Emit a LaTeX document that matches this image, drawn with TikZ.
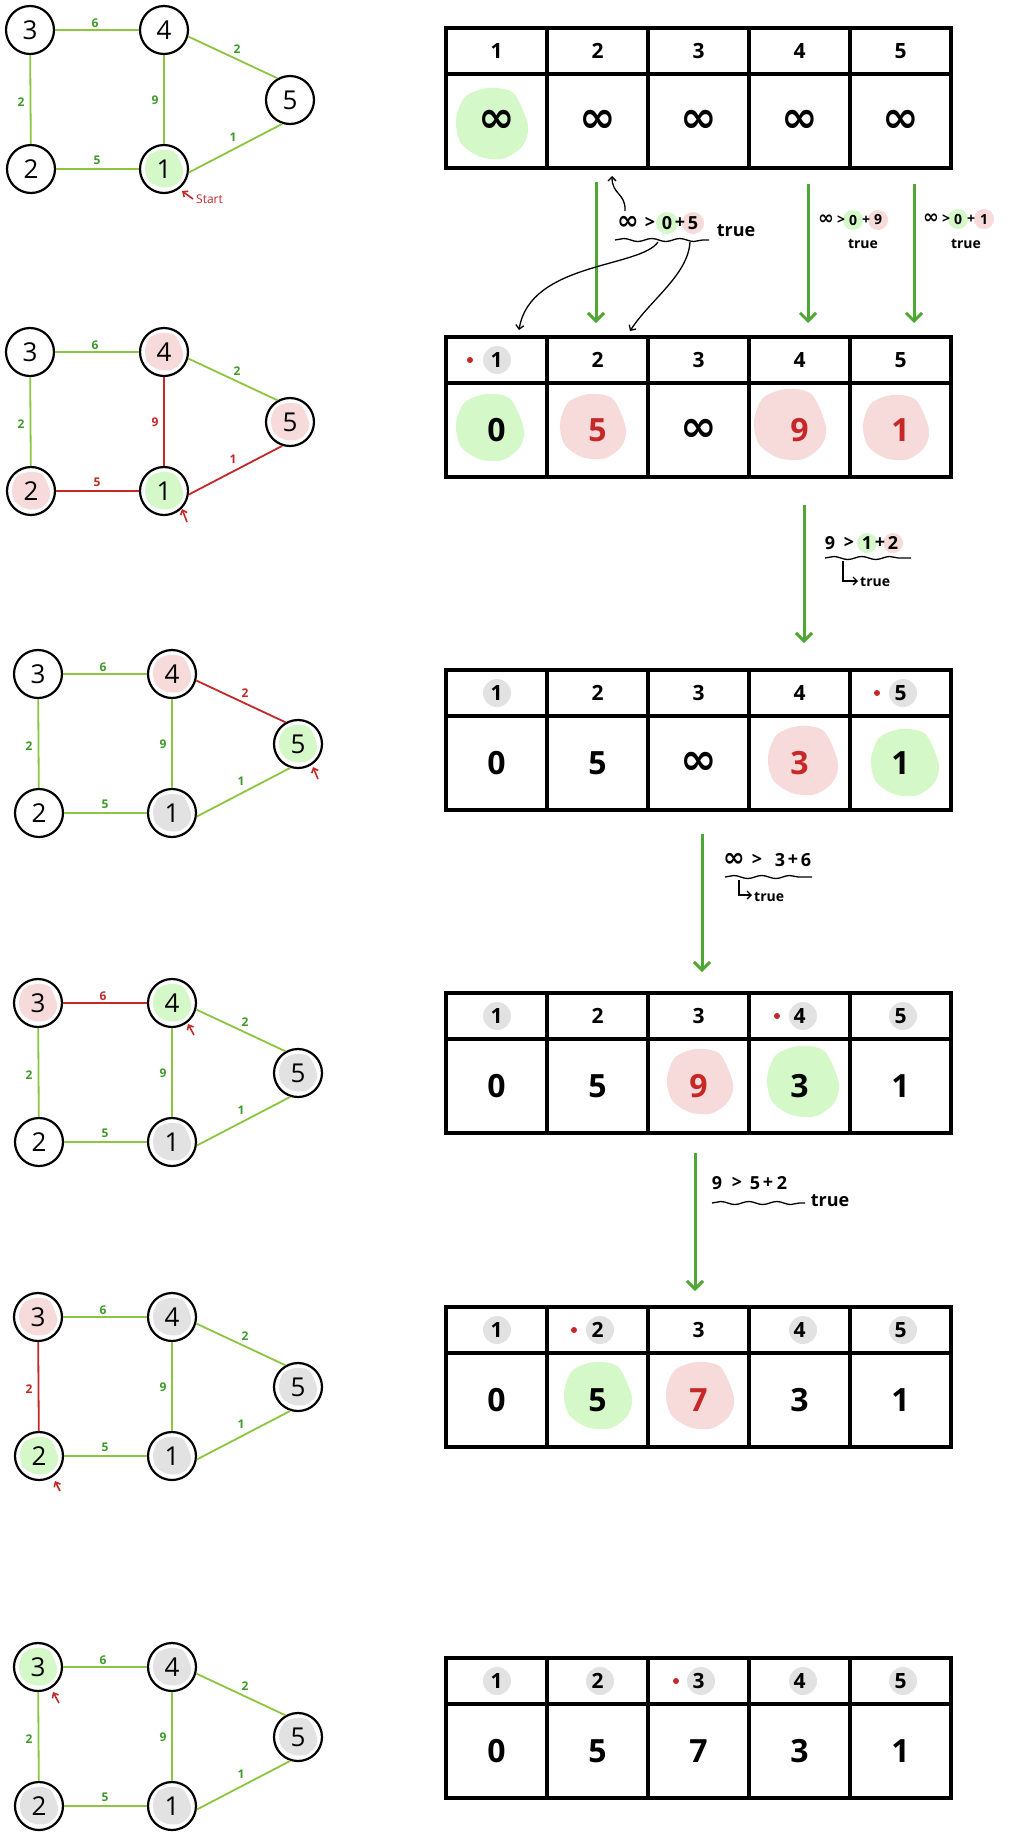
\documentclass[tikz,border=0pt]{standalone}
\usepackage{fontspec}
\setmainfont{Open Sans}
\newfontfamily\symf{DejaVu Sans}
\usetikzlibrary{arrows.meta,decorations.pathmorphing}
\definecolor{gedge}{HTML}{8CC63F}
\definecolor{glab}{HTML}{3F9A2A}
\definecolor{rline}{HTML}{C62828}
\definecolor{gfill}{HTML}{D4F8C8}
\definecolor{pfill}{HTML}{F7DADA}
\definecolor{grfill}{HTML}{E2E2E2}
\definecolor{garrow}{HTML}{4FA834}
\newcommand\infsym{{\symf ∞}}
\newcommand\infbig{{\symf\fontsize{44}{44}\selectfont ∞}}
\newcommand\infmid{{\symf\fontsize{26}{26}\selectfont ∞}}
\newcommand\infsm{{\symf\fontsize{19}{19}\selectfont ∞}}
\newcommand\myblob[4]{\fill[fill=#4,shift={(#1,#2)},scale=#3] plot[smooth cycle] coordinates {(1,0.05) (0.85,0.6) (0.35,0.95) (-0.3,0.92) (-0.85,0.55) (-1,-0.1) (-0.75,-0.75) (-0.1,-1) (0.6,-0.85)};}
\tikzset{
 gnode/.style={circle, draw, line width=2.2pt, minimum size=48pt, inner sep=0pt, font=\fontsize{26}{26}\selectfont},
 ge/.style={draw=gedge, line width=1.8pt},
 re/.style={draw=rline, line width=1.8pt},
 gl/.style={text=glab, font=\fontsize{12}{12}\selectfont\bfseries, inner sep=1pt},
 rl/.style={text=rline, font=\fontsize{12}{12}\selectfont\bfseries, inner sep=1pt},
 hcell/.style={draw, line width=3.5pt, minimum width=101pt, minimum height=46pt, inner sep=0pt, font=\fontsize{21}{21}\selectfont\bfseries},
 bcell/.style={draw, line width=3.5pt, minimum width=101pt, minimum height=94pt, inner sep=0pt, font=\fontsize{32}{32}\selectfont\bfseries},
 garr/.style={draw=garrow, line width=3pt, -{Straight Barb[length=8pt,width=16pt]}},
 karr/.style={draw=black, line width=1.3pt, -{Straight Barb[length=4pt,width=8pt]}},
 rarr/.style={draw=rline, line width=1.6pt, -{Straight Barb[length=4pt,width=7pt]}},
 ann/.style={font=\fontsize{18}{18}\selectfont\bfseries, inner sep=0pt},
 anns/.style={font=\fontsize{14}{14}\selectfont\bfseries, inner sep=0pt},
 wave/.style={draw, line width=1.3pt, decorate, decoration={snake, amplitude=1.5pt, segment length=28pt}},
}
\newcommand\setg[6]{\tikzset{eA/.style={#1e},lA/.style={#1l},eB/.style={#2e},lB/.style={#2l},eC/.style={#3e},lC/.style={#3l},eD/.style={#4e},lD/.style={#4l},eE/.style={#5e},lE/.style={#5l},eF/.style={#6e},lF/.style={#6l}}}
\newcommand\setf[5]{\def\fA{#1}\def\fB{#2}\def\fC{#3}\def\fD{#4}\def\fE{#5}}
\newcommand\mygraph[3]{%
\begin{scope}[shift={(#2,#3)}]
 \myblob{0}{0}{19}{\fC}
 \myblob{134}{0}{19}{\fD}
 \myblob{260}{70}{19}{\fE}
 \myblob{1}{139}{19}{\fB}
 \myblob{134}{139}{19}{\fA}
 \node[gnode] (#1n3) at (0,0) {3};
 \node[gnode] (#1n4) at (134,0) {4};
 \node[gnode] (#1n5) at (260,70) {5};
 \node[gnode] (#1n2) at (1,139) {2};
 \node[gnode] (#1n1) at (134,139) {1};
 \draw[eA] (#1n3) -- (#1n4);
 \draw[eB] (#1n4.-15) -- (#1n5.120);
 \draw[eC] (#1n3) -- (#1n2);
 \draw[eD] (#1n4) -- (#1n1);
 \draw[eE] (#1n2) -- (#1n1);
 \draw[eF] (#1n1.-8) -- (#1n5.-108);
 \node[lA] (#1l6) at (65,-7) {6};
 \node[lB] (#1l2a) at (207,19) {2};
 \node[lD] (#1l9) at (125,70) {9};
 \node[lC] (#1l2b) at (-9,72) {2};
 \node[lE] (#1l5) at (67,130) {5};
 \node[lF] (#1l1) at (203,107) {1};
\end{scope}}
\newcommand\tabhead[7]{%
 \node[hcell] (#1h1) at (496.5,#2+23) {#3};
 \node[hcell] (#1h2) at (597.5,#2+23) {#4};
 \node[hcell] (#1h3) at (698.5,#2+23) {#5};
 \node[hcell] (#1h4) at (799.5,#2+23) {#6};
 \node[hcell] (#1h5) at (900.5,#2+23) {#7};}
\newcommand\tabbody[7]{%
 \node[bcell] (#1b1) at (496.5,#2+93) {#3};
 \node[bcell] (#1b2) at (597.5,#2+93) {#4};
 \node[bcell] (#1b3) at (698.5,#2+93) {#5};
 \node[bcell] (#1b4) at (799.5,#2+93) {#6};
 \node[bcell] (#1b5) at (900.5,#2+93) {#7};}
\newcommand\red[1]{{\color{rline}#1}}
\begin{document}
\begin{tikzpicture}[x=1pt,y=-1pt]
\fill[white] (0,0) rectangle (1032,1840);
\useasboundingbox (0,0) rectangle (1032,1840);
% ---------------- graphs
\setg{g}{g}{g}{g}{g}{g}\setf{gfill}{white}{white}{white}{white}
\mygraph{ga}{30}{30}
\setg{g}{g}{g}{r}{r}{r}\setf{gfill}{pfill}{white}{pfill}{pfill}
\mygraph{gb}{30}{352}
\setg{g}{r}{g}{g}{g}{g}\setf{grfill}{white}{white}{pfill}{gfill}
\mygraph{gc}{38}{674}
\setg{r}{g}{g}{g}{g}{g}\setf{grfill}{white}{pfill}{gfill}{grfill}
\mygraph{gd}{38}{1003}
\setg{g}{g}{r}{g}{g}{g}\setf{grfill}{gfill}{pfill}{grfill}{grfill}
\mygraph{ge}{38}{1317}
\setg{g}{g}{g}{g}{g}{g}\setf{grfill}{grfill}{gfill}{grfill}{grfill}
\mygraph{gf}{38}{1667}
% red pointer arrows
\coordinate (ra1s) at (193,199); \coordinate (ra1e) at (182,191);
\draw[rarr] (ra1s) -- (ra1e);
\node[text=rline, font=\fontsize{12}{12}\selectfont, anchor=west, inner sep=0pt] (start) at (196,199) {Start};
\coordinate (ra2s) at (187,522); \coordinate (ra2e) at (182,509);
\draw[rarr] (ra2s) -- (ra2e);
\coordinate (ra3s) at (318,779); \coordinate (ra3e) at (313,767);
\draw[rarr] (ra3s) -- (ra3e);
\coordinate (ra4s) at (194,1035); \coordinate (ra4e) at (188,1024);
\draw[rarr] (ra4s) -- (ra4e);
\coordinate (ra5s) at (60,1491); \coordinate (ra5e) at (55,1481);
\draw[rarr] (ra5s) -- (ra5e);
\coordinate (ra6s) at (59,1703); \coordinate (ra6e) at (53,1692);
\draw[rarr] (ra6s) -- (ra6e);
% ---------------- table blobs and marks
\myblob{492}{124}{36}{gfill}
% table 2
\myblob{490}{428}{34}{gfill}
\myblob{593}{427}{33}{pfill}
\myblob{790}{425}{36}{pfill}
\myblob{896}{428}{33}{pfill}
\fill[grfill] (497,360) circle (14);
\fill[rline] (470,360) circle (3);
% table 3
\fill[grfill] (497,693) circle (14);
\fill[grfill] (903,693) circle (14);
\fill[rline] (877,693) circle (3);
\myblob{803}{761}{35}{pfill}
\myblob{905}{763}{34}{gfill}
% table 4
\fill[grfill] (497,1016) circle (14);
\fill[grfill] (803,1016) circle (14);
\fill[grfill] (903,1016) circle (14);
\fill[rline] (777,1016) circle (3);
\myblob{700}{1082}{33}{pfill}
\myblob{803}{1082}{36}{gfill}
% table 5
\fill[grfill] (497,1330) circle (14);
\fill[grfill] (600,1330) circle (14);
\fill[grfill] (803,1330) circle (14);
\fill[grfill] (903,1330) circle (14);
\fill[rline] (574,1330) circle (3);
\myblob{598}{1396}{34}{gfill}
\myblob{700}{1396}{34}{pfill}
% table 6
\fill[grfill] (497,1681) circle (14);
\fill[grfill] (600,1681) circle (14);
\fill[grfill] (701,1681) circle (14);
\fill[grfill] (803,1681) circle (14);
\fill[grfill] (903,1681) circle (14);
\fill[rline] (676,1681) circle (3);
% ---------------- tables
\tabhead{ta}{28}{1}{2}{3}{4}{5}
\tabbody{ta}{28}{\infbig}{\infbig}{\infbig}{\infbig}{\infbig}
\tabhead{tb}{337}{1}{2}{3}{4}{5}
\tabbody{tb}{337}{0}{\red{5}}{\infbig}{\red{9}}{\red{1}}
\tabhead{tc}{670}{1}{2}{3}{4}{5}
\tabbody{tc}{670}{0}{5}{\infbig}{\red{3}}{1}
\tabhead{td}{993}{1}{2}{3}{4}{5}
\tabbody{td}{993}{0}{5}{\red{9}}{3}{1}
\tabhead{te}{1307}{1}{2}{3}{4}{5}
\tabbody{te}{1307}{0}{5}{\red{7}}{3}{1}
\tabhead{tf}{1658}{1}{2}{3}{4}{5}
\tabbody{tf}{1658}{0}{5}{7}{3}{1}
% ---------------- green arrows
\coordinate (a1s) at (596,182); \coordinate (a1e) at (596,323);
\coordinate (a2s) at (808,184); \coordinate (a2e) at (808,323);
\coordinate (a3s) at (914,184); \coordinate (a3e) at (914,323);
\coordinate (a4s) at (804,505); \coordinate (a4e) at (804,643);
\coordinate (a5s) at (702,834); \coordinate (a5e) at (702,972);
\coordinate (a6s) at (695,1153); \coordinate (a6e) at (695,1291);
\foreach \i in {1,...,6}{\draw[garr] (a\i s) -- (a\i e);}
% ---------------- annotation 1
\fill[gfill] (667,223) circle (11);
\fill[pfill] (693,223) circle (11);
\node[ann] (x1a) at (628,223) {\infmid};
\node[ann] (x1b) at (650,223) {>};
\node[ann] (x1c) at (667,223) {0};
\node[ann] (x1d) at (680,223) {+};
\node[ann] (x1e) at (693,223) {5};
\node[ann] (x1t) at (736,231) {true};
\coordinate (w1s) at (615,240); \coordinate (w1e) at (709,240);
\draw[wave] (w1s) -- (w1e);
\coordinate (c1s) at (658,242); \coordinate (c1e) at (519,330);
\draw[karr] (c1s) .. controls (640,268) and (530,262) .. (c1e);
\coordinate (c2s) at (690,242); \coordinate (c2e) at (630,331);
\draw[karr] (c2s) .. controls (688,275) and (650,300) .. (c2e);
\coordinate (c3s) at (625,211); \coordinate (c3e) at (612,176);
\draw[karr] (c3s) .. controls (626,193) and (612,195) .. (c3e);
% annotation 2
\fill[gfill] (853,220) circle (10);
\fill[pfill] (878,220) circle (10);
\node[anns] (x2a) at (826,220) {\infsm};
\node[anns] (x2b) at (841,220) {>};
\node[anns] (x2c) at (853,220) {0};
\node[anns] (x2d) at (866,220) {+};
\node[anns] (x2e) at (878,220) {9};
\node[anns] (x2t) at (863,244) {true};
% annotation 3
\fill[gfill] (958,219) circle (10);
\fill[pfill] (984,219) circle (10);
\node[anns] (x3a) at (931,219) {\infsm};
\node[anns] (x3b) at (946,219) {>};
\node[anns] (x3c) at (958,219) {0};
\node[anns] (x3d) at (971,219) {+};
\node[anns] (x3e) at (984,219) {1};
\node[anns] (x3t) at (966,244) {true};
% annotation 4
\fill[gfill] (867,543) circle (10);
\fill[pfill] (893,543) circle (10);
\node[ann] (x4a) at (830,543) {9};
\node[ann] (x4b) at (849,543) {>};
\node[ann] (x4c) at (867,543) {1};
\node[ann] (x4d) at (880,543) {+};
\node[ann] (x4e) at (893,543) {2};
\coordinate (w4s) at (825,558); \coordinate (w4e) at (911,558);
\draw[wave] (w4s) -- (w4e);
\coordinate (l4s) at (843,561); \coordinate (l4e) at (858,581);
\draw[karr] (l4s) |- (l4e);
\node[anns, anchor=west] (x4t) at (860,582) {true};
% annotation 5
\node[ann] (x5a) at (734,860) {\infmid};
\node[ann] (x5b) at (757,860) {>};
\node[ann] (x5c) at (780,860) {3};
\node[ann] (x5d) at (793,860) {+};
\node[ann] (x5e) at (806,860) {6};
\coordinate (w5s) at (725,877); \coordinate (w5e) at (812,877);
\draw[wave] (w5s) -- (w5e);
\coordinate (l5s) at (739,880); \coordinate (l5e) at (752,895);
\draw[karr] (l5s) |- (l5e);
\node[anns, anchor=west] (x5t) at (754,897) {true};
% annotation 6
\node[ann] (x6a) at (717,1183) {9};
\node[ann] (x6b) at (737,1183) {>};
\node[ann] (x6c) at (755,1183) {5};
\node[ann] (x6d) at (768,1183) {+};
\node[ann] (x6e) at (782,1183) {2};
\coordinate (w6s) at (712,1203); \coordinate (w6e) at (805,1203);
\draw[wave] (w6s) -- (w6e);
\node[ann] (x6t) at (830,1201) {true};
\end{tikzpicture}
\end{document}
